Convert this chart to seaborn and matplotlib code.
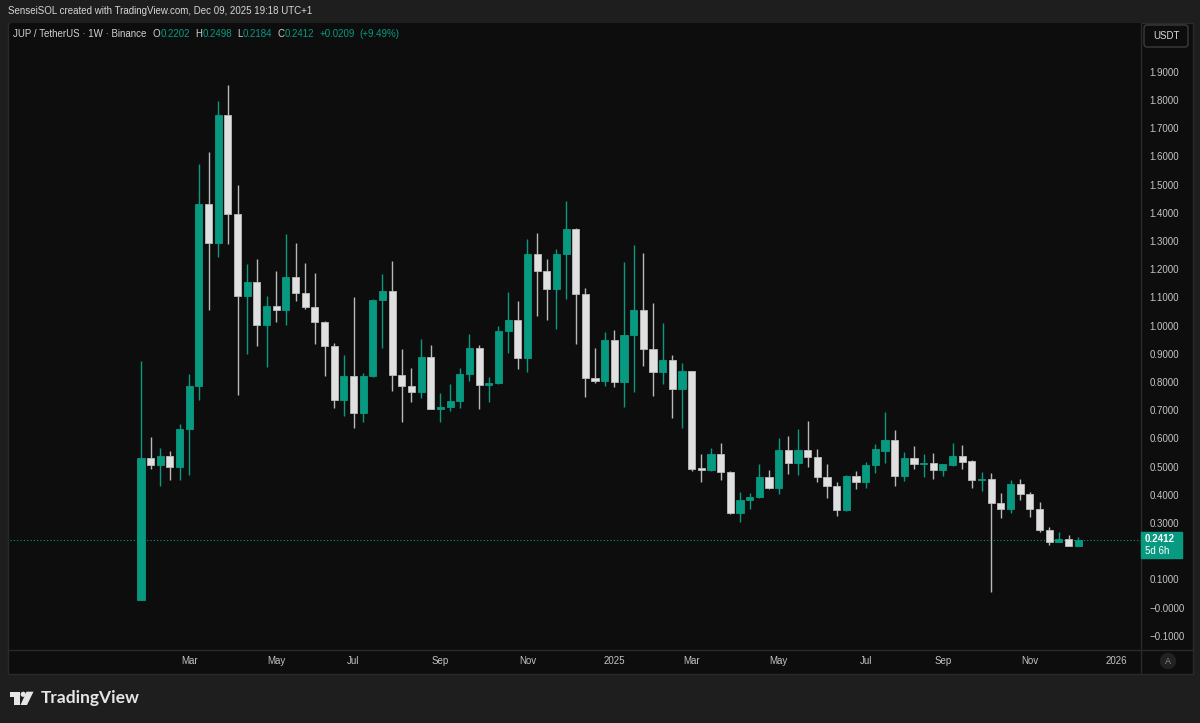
import matplotlib
matplotlib.use("Agg")
import matplotlib.pyplot as plt
import matplotlib.patches as mpatches
from matplotlib.lines import Line2D
from matplotlib.transforms import IdentityTransform
import numpy as np
import pandas as pd
import seaborn as sns

W, H = 1200, 723

# JUP / USDT weekly candles (Binance), first week starts 2024-01-29
opens = [0.028, 0.531, 0.507, 0.538, 0.498, 0.633, 0.786, 1.431, 1.293, 1.746,
         1.397, 1.104, 1.156, 1.001, 1.069, 1.057, 1.172, 1.117, 1.066, 1.013,
         0.929, 0.735, 0.822, 0.692, 0.822, 1.091, 1.123, 0.825, 0.787, 0.764,
         0.889, 0.706, 0.712, 0.733, 0.827, 0.921, 0.791, 0.798, 0.980, 1.020,
         0.886, 1.253, 1.195, 1.130, 1.253, 1.343, 1.113, 0.815, 0.805, 0.948,
         0.800, 0.967, 1.056, 0.917, 0.835, 0.879, 0.776, 0.838, 0.494, 0.489,
         0.545, 0.480, 0.336, 0.381, 0.393, 0.464, 0.423, 0.560, 0.512, 0.558,
         0.533, 0.462, 0.431, 0.345, 0.467, 0.445, 0.506, 0.556, 0.594, 0.468,
         0.532, 0.510, 0.513, 0.488, 0.506, 0.538, 0.520, 0.451, 0.455, 0.372,
         0.351, 0.438, 0.404, 0.350, 0.275, 0.234, 0.243, 0.2202]
highs = [0.874, 0.605, 0.565, 0.557, 0.651, 0.828, 1.574, 1.616, 1.795, 1.853,
         1.499, 1.220, 1.235, 1.105, 1.194, 1.325, 1.292, 1.223, 1.188, 1.018,
         0.938, 0.896, 1.103, 0.831, 1.095, 1.182, 1.229, 0.917, 0.851, 0.952,
         0.932, 0.760, 0.793, 0.849, 0.971, 0.931, 0.819, 0.999, 1.118, 1.088,
         1.306, 1.330, 1.235, 1.272, 1.442, 1.345, 1.135, 0.921, 0.978, 0.986,
         1.225, 1.286, 1.258, 1.080, 1.009, 0.897, 0.867, 0.840, 0.544, 0.566,
         0.584, 0.484, 0.410, 0.408, 0.511, 0.488, 0.601, 0.609, 0.634, 0.661,
         0.564, 0.511, 0.447, 0.470, 0.486, 0.518, 0.580, 0.694, 0.629, 0.552,
         0.573, 0.544, 0.548, 0.511, 0.583, 0.577, 0.524, 0.481, 0.479, 0.406,
         0.452, 0.455, 0.409, 0.374, 0.285, 0.268, 0.256, 0.2498]
lows = [0.028, 0.490, 0.433, 0.454, 0.454, 0.471, 0.737, 1.056, 1.244, 1.290,
        0.754, 0.900, 0.927, 0.855, 1.013, 1.003, 1.088, 1.058, 0.934, 0.823,
        0.709, 0.681, 0.636, 0.660, 0.818, 0.922, 0.770, 0.660, 0.728, 0.742,
        0.704, 0.660, 0.699, 0.709, 0.805, 0.705, 0.728, 0.792, 0.904, 0.847,
        0.834, 1.034, 1.019, 0.987, 1.096, 0.934, 0.748, 0.796, 0.787, 0.782,
        0.711, 0.764, 0.858, 0.752, 0.793, 0.674, 0.638, 0.486, 0.447, 0.486,
        0.454, 0.333, 0.304, 0.351, 0.390, 0.421, 0.404, 0.473, 0.470, 0.498,
        0.447, 0.388, 0.326, 0.343, 0.421, 0.426, 0.477, 0.514, 0.431, 0.450,
        0.492, 0.465, 0.456, 0.468, 0.504, 0.493, 0.424, 0.414, 0.057, 0.318,
        0.336, 0.382, 0.323, 0.270, 0.223, 0.232, 0.217, 0.2184]
closes = [0.531, 0.507, 0.538, 0.498, 0.633, 0.786, 1.431, 1.293, 1.746, 1.397,
          1.104, 1.156, 1.001, 1.069, 1.057, 1.172, 1.117, 1.066, 1.013, 0.929,
          0.735, 0.822, 0.692, 0.822, 1.091, 1.123, 0.825, 0.787, 0.764, 0.889,
          0.706, 0.712, 0.733, 0.827, 0.921, 0.791, 0.798, 0.980, 1.020, 0.886,
          1.253, 1.195, 1.130, 1.253, 1.343, 1.113, 0.815, 0.803, 0.948, 0.800,
          0.967, 1.056, 0.917, 0.835, 0.879, 0.776, 0.838, 0.492, 0.489, 0.545,
          0.480, 0.336, 0.381, 0.394, 0.464, 0.423, 0.560, 0.512, 0.558, 0.533,
          0.462, 0.431, 0.345, 0.467, 0.445, 0.506, 0.564, 0.594, 0.468, 0.532,
          0.510, 0.513, 0.488, 0.510, 0.538, 0.517, 0.451, 0.455, 0.372, 0.351,
          0.438, 0.404, 0.350, 0.275, 0.234, 0.243, 0.2202, 0.2412]

first_week = "2024-01-29"
tick_dates = ["2024-03-04", "2024-05-06", "2024-07-01", "2024-09-02", "2024-11-04",
              "2025-01-06", "2025-03-03", "2025-05-05", "2025-07-07", "2025-09-01",
              "2025-11-03", "2026-01-05"]
tick_labels = ["Mar", "May", "Jul", "Sep", "Nov", "2025",
               "Mar", "May", "Jul", "Sep", "Nov", "2026"]
price_ticks = [-0.1, 0.0, 0.1, 0.2, 0.3, 0.4, 0.5, 0.6, 0.7, 0.8, 0.9, 1.0,
               1.1, 1.2, 1.3, 1.4, 1.5, 1.6, 1.7, 1.8, 1.9]
price_labels = ["\u22120.1000", "\u22120.0000", "0.1000", "", "0.3000", "0.4000",
                "0.5000", "0.6000", "0.7000", "0.8000", "0.9000", "1.0000",
                "1.1000", "1.2000", "1.3000", "1.4000", "1.5000", "1.6000",
                "1.7000", "1.8000", "1.9000"]
last_price = 0.2412
legend_values = ["0.2202", "0.2498", "0.2184", "0.2412"]

OUTER = "#1e1e1e"
PANEL = "#0d0d0d"
LINE = "#2a2a2a"
UP = "#089981"
DOWN = "#e0e0e0"
TXT = "#c4c4c4"

sns.set_theme(style="dark", rc={"axes.facecolor": PANEL, "figure.facecolor": OUTER,
                                "axes.grid": False, "axes.edgecolor": PANEL})
plt.rcParams["font.family"] = ["Liberation Sans", "DejaVu Sans"]


def fx(px):
    return px / W


def fy(py):
    return 1 - py / H


fig = plt.figure(figsize=(W / 100, H / 100), dpi=100)
renderer = fig.canvas.get_renderer()

# chart panel background
fig.add_artist(mpatches.Rectangle((8, H - 674), 1185, 651, transform=IdentityTransform(),
                                  facecolor=PANEL, edgecolor=LINE, lw=1, zorder=-2))

ax = fig.add_axes([fx(10), fy(650), fx(1141) - fx(10), fy(23) - fy(650)])
ax.set_facecolor(PANEL)
for s in ax.spines.values():
    s.set_visible(False)

o = np.array(opens)
h = np.array(highs)
l = np.array(lows)
c = np.array(closes)
x = np.arange(len(o))
up = c >= o

wick_cols = np.where(up, UP, "#b8b8b8")
body_cols = np.where(up, UP, DOWN)
edge_cols = np.where(up, UP, "#bcbcbc")

ax.vlines(x, l, h, colors=wick_cols, linewidth=1.0, zorder=2)
body_h = np.maximum(np.abs(c - o), 0.0035)
ax.bar(x, body_h, bottom=np.minimum(o, c), width=0.74, color=body_cols,
       edgecolor=edge_cols, linewidth=0.6, zorder=3)

ax.axhline(last_price, color=UP, linestyle=(0, (1, 2)), linewidth=0.8, zorder=1)

ax.set_xlim(-13.55, 103.5)
ax.set_ylim(-0.150, 2.073)

start = pd.Timestamp(first_week)
tick_pos = [(pd.Timestamp(d) - start).days / 7 for d in tick_dates]
ax.set_xticks(tick_pos)
ax.set_xticklabels(tick_labels)
ax.set_yticks(price_ticks)
ax.set_yticklabels(price_labels)
ax.yaxis.tick_right()
ax.tick_params(axis="y", length=0, pad=6, labelsize=7, labelcolor=TXT)
ax.tick_params(axis="x", length=0, pad=4.5, labelsize=7, labelcolor=TXT)

# separators
fig.add_artist(Line2D([fx(1141), fx(1141)], [fy(23), fy(674)], color=LINE, lw=1))
fig.add_artist(Line2D([fx(8), fx(1193)], [fy(650), fy(650)], color=LINE, lw=1))

# last price tag
fig.add_artist(mpatches.Rectangle((1141, H - 558), 41, 26, transform=IdentityTransform(),
                                  facecolor=UP, edgecolor=UP, zorder=5))
fig.text(fx(1145), fy(539), "0.2412", color="white", fontsize=7, weight="bold",
         va="center", ha="left", zorder=6)
fig.text(fx(1145), fy(551), "5d 6h", color="white", fontsize=7,
         va="center", ha="left", zorder=6)

# currency button
fig.add_artist(mpatches.FancyBboxPatch((1144, H - 47), 44, 22, transform=IdentityTransform(),
                                       boxstyle="round,pad=0,rounding_size=3",
                                       facecolor=PANEL, edgecolor="#3c3c3c", lw=1, zorder=5))
fig.text(fx(1166), fy(36), "USDT", color="#d8d8d8", fontsize=7, va="center",
         ha="center", zorder=6)

# auto-scale button
fig.add_artist(mpatches.Circle((1168, H - 661), 7.5, transform=IdentityTransform(),
                               facecolor="#222222", edgecolor="#222222", zorder=5))
fig.text(fx(1168), fy(661), "A", color="#8a8a8a", fontsize=6.5, va="center",
         ha="center", zorder=6)

# header lines
fig.text(fx(8), fy(11.5), "SenseiSOL created with TradingView.com, Dec 09, 2025 19:18 UTC+1",
         color="#d6d6d6", fontsize=7, va="center", ha="left")

GREY = "#d1d1d1"
legend_parts = [("JUP / TetherUS \u00b7 1W \u00b7 Binance", GREY, 6),
                ("O", GREY, 0.5), (legend_values[0], UP, 5),
                ("H", GREY, 0.5), (legend_values[1], UP, 5),
                ("L", GREY, 0.5), (legend_values[2], UP, 5),
                ("C", GREY, 0.5), (legend_values[3], UP, 5),
                ("+0.0209", UP, 4), ("(+9.49%)", UP, 0)]
cur = 13
for s, col, gap in legend_parts:
    t = fig.text(fx(cur), fy(34), s, color=col, fontsize=7, va="center", ha="left")
    cur = t.get_window_extent(renderer).x1 + gap

# footer logo
logo = "#e6e6e6"
fig.add_artist(mpatches.Rectangle((10, H - 697), 9.5, 5.5, transform=IdentityTransform(),
                                  facecolor=logo, edgecolor="none"))
fig.add_artist(mpatches.Rectangle((14, H - 705), 5.5, 13, transform=IdentityTransform(),
                                  facecolor=logo, edgecolor="none"))
fig.add_artist(mpatches.Circle((23.2, H - 694.3), 2.6, transform=IdentityTransform(),
                               facecolor=logo, edgecolor="none"))
fig.add_artist(mpatches.Polygon([(26.5, H - 691.7), (33.5, H - 691.7), (27, H - 705), (20.5, H - 705)],
                                closed=True, transform=IdentityTransform(),
                                facecolor=logo, edgecolor="none"))
fig.text(fx(41), fy(698), "TradingView", color=logo, fontsize=12.5, weight="bold",
         family=["Lato", "DejaVu Sans"], va="center", ha="left")

fig.savefig("out.png", dpi=100, facecolor=OUTER)
